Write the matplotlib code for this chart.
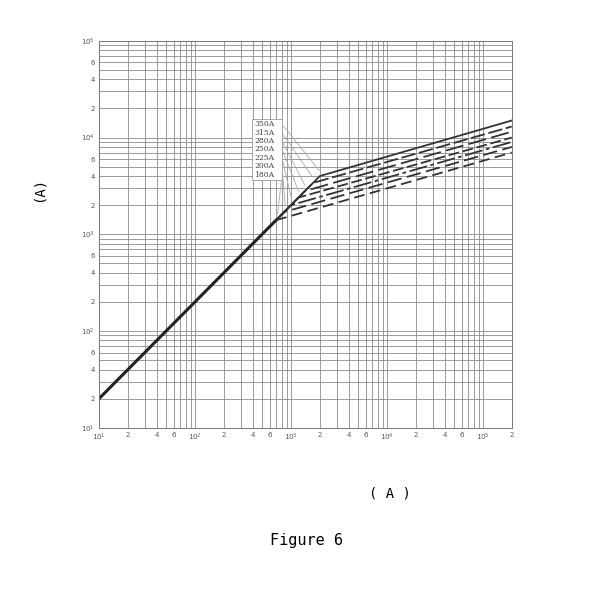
import numpy as np
import matplotlib
matplotlib.use("Agg")
import matplotlib.pyplot as plt
from matplotlib.ticker import LogLocator, FixedLocator

ratings = ["350A", "315A", "280A", "250A", "225A", "200A", "180A"]
knee_x = [2000, 1700, 1400, 1200, 1000, 850, 700]
end_y = [15000, 13000, 11500, 10000, 9000, 8000, 7000]
base_x = [10, 700]
base_y = [20, 1400]
x_end = 2e5

fig = plt.figure(figsize=(6, 6), dpi=100)
ax = fig.add_axes([0.165, 0.287, 0.688, 0.645])
ax.set_xscale("log"); ax.set_yscale("log")
ax.set_xlim(10, 2e5); ax.set_ylim(10, 1e5)
ax.grid(True, which="both", color="#8a8a8a", lw=0.6)
for s in ax.spines.values():
    s.set_color("#777777"); s.set_linewidth(0.7)

ax.plot(base_x, base_y, color="#222222", lw=2.2)
styles = ["-", (0, (8, 2)), (0, (10, 3)), (0, (6, 2)), (0, (10, 2, 2, 2)), (0, (8, 3)), (0, (6, 3))]
for kx, ey, ls in zip(knee_x, end_y, styles):
    ax.plot([700, kx, x_end], [1400, 2 * kx, ey], color="#333333", lw=1.3, ls=ls)

xt = [10, 20, 40, 60, 100, 200, 400, 600, 1000, 2000, 4000, 6000, 1e4, 2e4, 4e4, 6e4, 1e5, 2e5]
xl = ["10$^1$", "2", "4", "6", "10$^2$", "2", "4", "6", "10$^3$", "2", "4", "6", "10$^4$", "2", "4", "6", "10$^5$", "2"]
yt = [10, 20, 40, 60, 100, 200, 400, 600, 1000, 2000, 4000, 6000, 1e4, 2e4, 4e4, 6e4, 1e5]
yl = ["10$^1$", "2", "4", "6", "10$^2$", "2", "4", "6", "10$^3$", "2", "4", "6", "10$^4$", "2", "4", "6", "10$^5$"]
ax.xaxis.set_major_locator(FixedLocator(xt)); ax.set_xticklabels(xl)
ax.yaxis.set_major_locator(FixedLocator(yt)); ax.set_yticklabels(yl)
ax.xaxis.set_minor_locator(LogLocator(subs=np.arange(2, 10)))
ax.yaxis.set_minor_locator(LogLocator(subs=np.arange(2, 10)))
ax.tick_params(which="both", length=0, labelsize=5, colors="#555555", pad=3)

# label box with leader lines
lab_y = [0.793, 0.779, 0.765, 0.751, 0.737, 0.723, 0.709]
fig.patches.append(plt.Rectangle((0.420, 0.700), 0.050, 0.102, transform=fig.transFigure,
                                 facecolor="white", edgecolor="#999999", lw=0.6, zorder=5))
for r, y, kx in zip(ratings, lab_y, knee_x):
    fig.text(0.424, y, r, fontsize=5.5, family="DejaVu Serif", color="#444444", va="center", zorder=6)
    ax.annotate("", xy=(kx * 1.03, 2 * kx * 1.08), xycoords="data",
                xytext=(0.470, y), textcoords="figure fraction",
                arrowprops=dict(arrowstyle="-", color="#aaaaaa", lw=0.6))

fig.text(0.065, 0.685, "(A)", rotation=90, fontsize=10, ha="center", va="center", family="DejaVu Sans Mono")
fig.text(0.65, 0.178, "( A )", fontsize=10, ha="center", va="center", family="DejaVu Sans Mono")
fig.text(0.51, 0.10, "Figure 6", fontsize=11, ha="center", va="center", family="DejaVu Sans Mono")
fig.savefig("out.png", dpi=100)
